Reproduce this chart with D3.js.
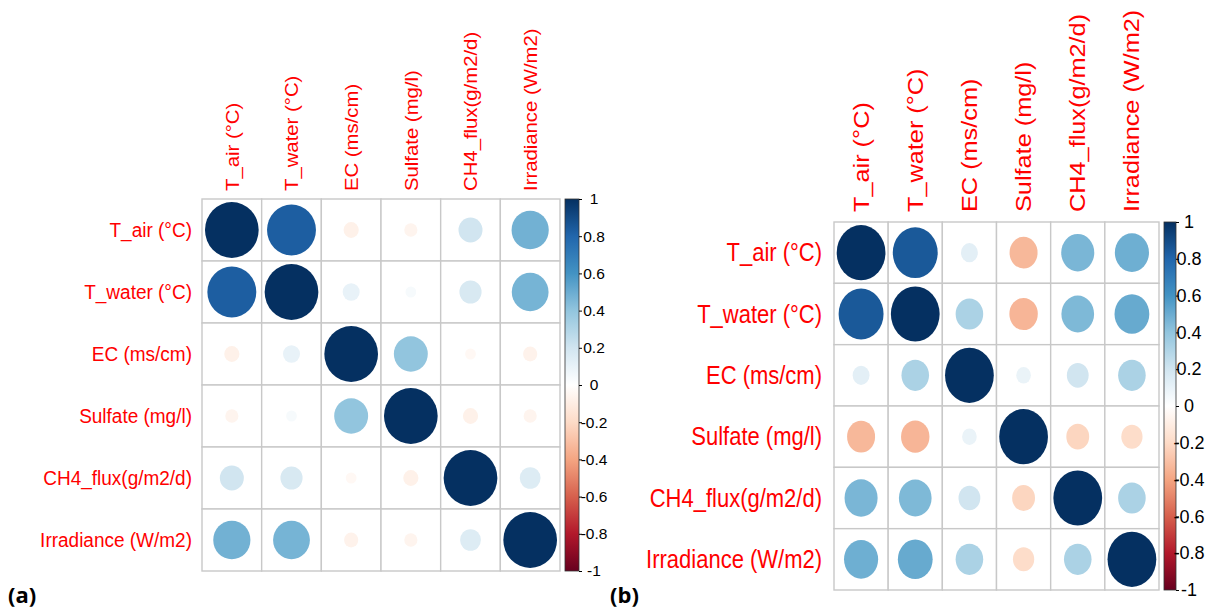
<!DOCTYPE html>
<html>
<head>
<meta charset="utf-8">
<script src="https://cdn.jsdelivr.net/npm/d3@7"></script>
<style>
  body { margin: 0; background: #fff; }
  svg { display: block; }
</style>
</head>
<body>
<script>
// variable names, same order for rows and columns
var variables = ["T_air (°C)", "T_water (°C)", "EC (ms/cm)", "Sulfate (mg/l)", "CH4_flux(g/m2/d)", "Irradiance (W/m2)"];

// panel (a) correlation matrix
var corrA = [
  [1.00, 0.83, -0.08, -0.06, 0.20, 0.48],
  [0.83, 1.00, 0.10, 0.04, 0.17, 0.47],
  [-0.08, 0.10, 1.00, 0.40, -0.04, -0.07],
  [-0.06, 0.04, 0.40, 1.00, -0.08, -0.06],
  [0.20, 0.17, -0.04, -0.08, 1.00, 0.15],
  [0.48, 0.47, -0.07, -0.06, 0.15, 1.00]
];

// panel (b) correlation matrix
var corrB = [
  [1.00, 0.85, 0.12, -0.33, 0.46, 0.49],
  [0.85, 1.00, 0.32, -0.34, 0.45, 0.51],
  [0.12, 0.32, 1.00, 0.09, 0.20, 0.32],
  [-0.33, -0.34, 0.09, 1.00, -0.22, -0.19],
  [0.46, 0.45, 0.20, -0.22, 1.00, 0.32],
  [0.49, 0.51, 0.32, -0.19, 0.32, 1.00]
];

// colour legend ticks
var legendTicks = [1, 0.8, 0.6, 0.4, 0.2, 0, -0.2, -0.4, -0.6, -0.8, -1];
var legendLabels = ["1", "0.8", "0.6", "0.4", "0.2", "0", "-0.2", "-0.4", "-0.6", "-0.8", "-1"];

// RdBu ramp used by corrplot
var ramp = ["#67001F", "#B2182B", "#D6604D", "#F4A582", "#FDDBC7", "#FFFFFF",
            "#D1E5F0", "#92C5DE", "#4393C3", "#2166AC", "#053061"];

var color = d3.scaleLinear()
  .domain(d3.range(ramp.length).map((i) => -1 + i * 2 / (ramp.length - 1)))
  .range(ramp)
  .interpolate(d3.interpolateRgb);

var svg = d3.select('body')
  .append('svg')
  .attr('width', 1206)
  .attr('height', 614);

// one vertical gradient for both legends
var grad = svg.append('defs')
  .append('linearGradient')
  .attr('id', 'rdbu')
  .attr('x1', 0).attr('y1', 1).attr('x2', 0).attr('y2', 0);
grad.selectAll('stop')
  .data(d3.range(0, 1.0001, 0.05))
  .enter()
  .append('stop')
  .attr('offset', (d) => d)
  .attr('stop-color', (d) => color(-1 + 2 * d));

const drawPanel = (mat, p) => {
  var g = svg.append('g');

  var xScale = d3.scaleBand().domain(variables).range([p.x0, p.x1]);
  var yScale = d3.scaleBand().domain(variables).range([p.y0, p.y1]);
  var cw = xScale.bandwidth();
  var ch = yScale.bandwidth();

  var cells = [];
  mat.forEach((row, i) => row.forEach((v, j) => cells.push({ r: variables[i], c: variables[j], v: v })));

  g.selectAll('rect.cell')
    .data(cells)
    .enter()
    .append('rect')
    .attr('class', 'cell')
    .attr('x', (d) => xScale(d.c))
    .attr('y', (d) => yScale(d.r))
    .attr('width', cw)
    .attr('height', ch)
    .attr('fill', 'white')
    .attr('stroke', '#c8c8c8')
    .attr('stroke-width', 1.4);

  // circle area ~ |r|, stretched to the cell shape
  g.selectAll('ellipse')
    .data(cells)
    .enter()
    .append('ellipse')
    .attr('cx', (d) => xScale(d.c) + cw / 2)
    .attr('cy', (d) => yScale(d.r) + ch / 2)
    .attr('rx', (d) => 0.45 * Math.sqrt(Math.abs(d.v)) * cw)
    .attr('ry', (d) => 0.45 * Math.sqrt(Math.abs(d.v)) * ch)
    .attr('fill', (d) => color(d.v));

  // row labels
  g.selectAll('text.row')
    .data(variables)
    .enter()
    .append('text')
    .attr('class', 'row')
    .attr('transform', (d) => 'translate(' + (p.x0 - p.rowGap) + ',' + (yScale(d) + ch / 2) + ') scale(1,' + p.sy + ')')
    .attr('text-anchor', 'end')
    .attr('dominant-baseline', 'central')
    .attr('font-family', 'Liberation Sans, Arial, sans-serif')
    .attr('font-size', p.font)
    .attr('fill', 'red')
    .text((d) => d);

  // column labels, rotated
  g.selectAll('text.col')
    .data(variables)
    .enter()
    .append('text')
    .attr('class', 'col')
    .attr('transform', (d) => 'translate(' + (xScale(d) + cw / 2) + ',' + (p.y0 - p.colGap) + ') scale(1,' + p.sy + ') rotate(-90)')
    .attr('text-anchor', 'start')
    .attr('dominant-baseline', 'central')
    .attr('font-family', 'Liberation Sans, Arial, sans-serif')
    .attr('font-size', p.font)
    .attr('fill', 'red')
    .text((d) => d);

  // colour legend
  g.append('rect')
    .attr('x', p.barX)
    .attr('y', p.y0)
    .attr('width', p.barW)
    .attr('height', p.y1 - p.y0)
    .attr('fill', 'url(#rdbu)')
    .attr('stroke', '#333')
    .attr('stroke-width', 0.8);

  var lScale = d3.scaleLinear().domain([-1, 1]).range([p.y1, p.y0]);
  var axis = g.append('g')
    .attr('transform', 'translate(' + (p.barX + p.barW) + ',0)')
    .call(d3.axisRight(lScale)
      .tickValues(legendTicks)
      .tickSize(3)
      .tickFormat((d, i) => legendLabels[i]));
  axis.select('.domain').remove();
  axis.selectAll('text')
    .attr('x', p.tickDx)
    .attr('text-anchor', 'middle')
    .attr('font-family', 'Liberation Sans, Arial, sans-serif')
    .attr('font-size', p.tickFont)
    .attr('fill', 'black');

  svg.append('text')
    .attr('x', p.tagX)
    .attr('y', 603)
    .attr('font-family', 'Open Sans, sans-serif')
    .attr('font-weight', 'bold')
    .attr('font-size', 22)
    .attr('fill', 'black')
    .text(p.tag);
};

drawPanel(corrA, {
  x0: 202, x1: 560, y0: 199, y1: 571,
  font: 19, sy: 1.07, rowGap: 10, colGap: 8,
  barX: 565, barW: 14, tickFont: 15.5, tickDx: 15,
  tag: '(a)', tagX: 8
});

drawPanel(corrB, {
  x0: 834, x1: 1159, y0: 222, y1: 590,
  font: 22, sy: 1.15, rowGap: 12, colGap: 10,
  barX: 1164, barW: 12, tickFont: 18, tickDx: 13,
  tag: '(b)', tagX: 610
});
</script>
</body>
</html>
